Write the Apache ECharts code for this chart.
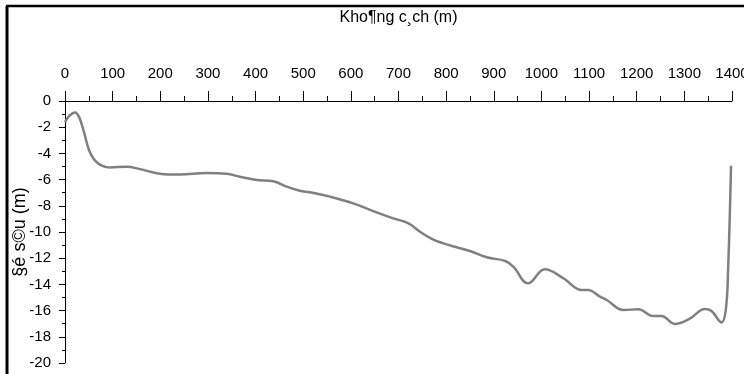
<!DOCTYPE html>
<html>
<head>
<meta charset="utf-8">
<script src="https://cdn.jsdelivr.net/npm/echarts@6/dist/echarts.min.js"></script>
<style>
  html, body { margin: 0; padding: 0; background: #fff; }
  #chart { width: 744px; height: 374px; }
</style>
</head>
<body>
<div id="chart"></div>
<script>
// khoảng cách (m) / độ sâu (m)
const distance = [
  0, 10, 21, 30, 40, 50, 60, 73, 94, 130, 157, 199, 241, 297, 339, 367, 402, 437,
  465, 493, 514, 556, 605, 654, 689, 721, 745, 770, 794, 822, 850, 885, 924, 941,
  972, 1007, 1046, 1085, 1098, 1123, 1137, 1172, 1203, 1235, 1252, 1280, 1312,
  1343, 1357, 1378, 1387, 1392, 1398
]
const depth = [
  -1.6, -1.1, -0.87, -1.25, -2.4, -3.7, -4.4, -4.85, -5.07, -5.02, -5.2, -5.55, -5.62,
  -5.5, -5.55, -5.78, -6.03, -6.13, -6.54, -6.85, -6.97, -7.3, -7.81, -8.5, -8.96,
  -9.34, -9.98, -10.53, -10.87, -11.17, -11.45, -11.93, -12.21, -12.65, -13.92,
  -12.85, -13.53, -14.43, -14.43, -14.94, -15.19, -15.95, -15.9, -16.41, -16.41,
  -17.02, -16.6, -15.88, -16.03, -16.9, -15.95, -12.65, -4.94
]
const xTitle = 'Kho¶ng c¸ch (m)'
const yTitle = '§é s©u (m)'

const FONT = '"Liberation Sans", Arial, sans-serif'
const AXIS_COLOR = '#000'

const chart = echarts.init(document.getElementById('chart'), null, { renderer: 'canvas' })

chart.setOption({
  backgroundColor: '#fff',
  animation: false,
  grid: { left: 65, right: 12, top: 101, bottom: 11, outerBoundsMode: 'none' },
  xAxis: {
    type: 'value',
    position: 'top',
    min: 0,
    max: 1400,
    interval: 100,
    name: xTitle,
    nameLocation: 'middle',
    nameGap: 75,
    nameTextStyle: { fontFamily: FONT, fontSize: 16, color: '#000' },
    axisLine: { onZero: false, lineStyle: { color: AXIS_COLOR, width: 1 } },
    axisTick: { length: 10, lineStyle: { color: AXIS_COLOR } },
    minorTick: { show: true, splitNumber: 2, length: 5, lineStyle: { color: AXIS_COLOR } },
    axisLabel: {
      margin: 20, fontFamily: FONT, fontSize: 15, color: '#000', showMaxLabel: true,
      formatter: v => String(v)
    },
    splitLine: { show: false }
  },
  yAxis: {
    type: 'value',
    min: -20,
    max: 0,
    interval: 2,
    name: yTitle,
    nameLocation: 'middle',
    nameGap: 36,
    nameMoveOverlap: false,
    nameRotate: 90,
    nameTextStyle: { fontFamily: FONT, fontSize: 18, color: '#000' },
    axisLine: { onZero: false, lineStyle: { color: AXIS_COLOR, width: 1 } },
    axisTick: { length: 6, lineStyle: { color: AXIS_COLOR } },
    minorTick: { show: true, splitNumber: 2, length: 3, lineStyle: { color: AXIS_COLOR } },
    axisLabel: { margin: 14, fontFamily: FONT, fontSize: 15, color: '#000', formatter: v => String(v) },
    splitLine: { show: false }
  },
  graphic: [
    // frame edges (only top and left show in the picture)
    { type: 'line', shape: { x1: 6, y1: 6, x2: 744, y2: 6 }, style: { stroke: '#000', lineWidth: 2.5 } },
    { type: 'line', shape: { x1: 7, y1: 6, x2: 7, y2: 374 }, style: { stroke: '#000', lineWidth: 3 } }
  ],
  series: [{
    type: 'line',
    data: distance.map((d, i) => [d, depth[i]]),
    smooth: 0.4,
    showSymbol: false,
    clip: false,
    lineStyle: { color: '#808080', width: 2.5 }
  }]
})
</script>
</body>
</html>
